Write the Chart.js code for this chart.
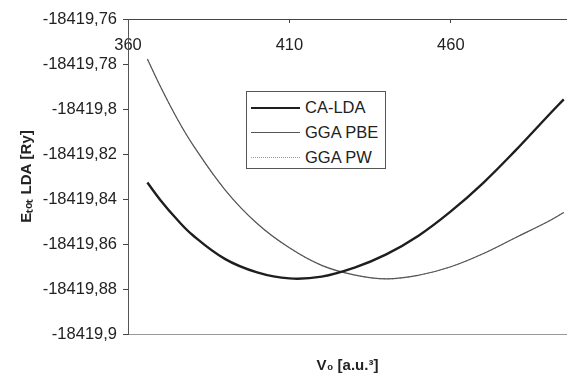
<!DOCTYPE html>
<html>
<head>
<meta charset="utf-8">
<script src="https://cdn.jsdelivr.net/npm/chart.js@4.4.1/dist/chart.umd.min.js"></script>
<style>
  html, body { margin: 0; padding: 0; background: #fff; }
  #wrap { position: relative; width: 567px; height: 376px; }
  #legend {
    position: absolute; left: 246px; top: 91px; width: 140px; height: 78px;
    border: 1px solid #555; background: #fff; box-sizing: border-box;
    font: 16.5px "Liberation Sans", Arial, sans-serif; color: #222;
  }
  #legend .row { display: flex; align-items: center; height: 25px; padding-left: 4px; }
  #legend .row:first-child { margin-top: 3px; }
  #legend .smp { width: 49px; margin-right: 5px; }
</style>
</head>
<body>
<div id="wrap">
  <canvas id="myChart" width="567" height="376"></canvas>
  <div id="legend"></div>
</div>
<script>
// volumes (a.u.^3) and total energies (Ry)
const volumes = [366, 370, 375, 380, 390, 400, 410, 420, 430, 440, 450, 460, 470, 480, 490, 495]
const caLda = [-18419.8327, -18419.8404, -18419.8488, -18419.8560, -18419.8666, -18419.8726, -18419.8753, -18419.8745,
               -18419.8706, -18419.8646, -18419.8563, -18419.8455, -18419.8329, -18419.8185, -18419.8032, -18419.7957]
const ggaPbe = [-18419.7778, -18419.7899, -18419.8037, -18419.8157, -18419.8358, -18419.8509, -18419.8617, -18419.8695,
                -18419.8737, -18419.8755, -18419.8739, -18419.8701, -18419.8643, -18419.8572, -18419.8501, -18419.8460]
const ggaPw = [-18419.7778, -18419.7899, -18419.8037, -18419.8157, -18419.8358, -18419.8509, -18419.8617, -18419.8695,
               -18419.8737, -18419.8755, -18419.8739, -18419.8701, -18419.8643, -18419.8572, -18419.8501, -18419.8460]
const xTicks = [360, 410, 460]
const yTicks = [-18419.9, -18419.88, -18419.86, -18419.84, -18419.82, -18419.8, -18419.78, -18419.76]

const pts = arr => arr.map((e, i) => ({x: volumes[i], y: e}))
const font = '"Liberation Sans", Arial, sans-serif'
const fmtY = v => {
  let s = v.toFixed(2)
  s = s.replace(/0+$/, '').replace(/\.$/, '')
  return s.replace('.', ',')
}

const ctx = document.getElementById("myChart").getContext('2d')
const chart = new Chart(ctx, {
  type: 'line',
  data: {
    datasets: [{
      label: 'CA-LDA',
      data: pts(caLda),
      borderColor: '#1e1e1e',
      borderWidth: 2.4
    }, {
      label: 'GGA PBE',
      data: pts(ggaPbe),
      borderColor: '#555',
      borderWidth: 1.2
    }, {
      label: 'GGA PW',
      data: pts(ggaPw),
      borderColor: '#999',
      borderWidth: 1,
      borderDash: [2, 2]
    }]
  },
  options: {
    responsive: false,
    animation: false,
    layout: { padding: { top: 19, left: 0, right: 0, bottom: 0 } },
    elements: { point: { radius: 0 }, line: { tension: 0.4 } },
    plugins: { legend: { display: false }, tooltip: { enabled: false } },
    scales: {
      x: {
        type: 'linear',
        position: { y: -18419.76 },
        min: 360,
        max: 496,
        afterBuildTicks: s => { s.ticks = xTicks.map(v => ({value: v})) },
        grid: { display: true, drawOnChartArea: false, drawTicks: true, tickLength: 3, tickColor: '#444' },
        border: { display: true, color: '#444', width: 1 },
        ticks: { padding: 14, color: '#222', font: { family: font, size: 16.5 }, maxRotation: 0 }
      },
      x2: {
        type: 'linear',
        position: 'bottom',
        min: 360,
        max: 496,
        afterFit: s => { s.height = 42 },
        grid: { display: false, drawTicks: false },
        border: { display: true, color: '#999', width: 1, dash: [5, 2] },
        ticks: { display: false },
        title: {
          display: true,
          text: 'V\u2080 [a.u.\u00b3]',
          color: '#222',
          font: { family: font, size: 15, weight: 'bold' },
          padding: { top: 4, bottom: 1 }
        }
      },
      y: {
        min: -18419.9,
        max: -18419.76,
        afterBuildTicks: s => { s.ticks = yTicks.map(v => ({value: v})) },
        afterFit: s => { s.width = 128 },
        grid: { drawOnChartArea: false, tickLength: 5, tickColor: '#444' },
        border: { display: true, color: '#555', width: 1 },
        ticks: { padding: 6, color: '#222', font: { family: font, size: 16.5 }, callback: v => fmtY(v) },
        title: {
          display: true,
          text: 'E\u209c\u2092\u209c LDA [Ry]',
          color: '#222',
          font: { family: font, size: 15, weight: 'bold' },
          padding: { top: 18, bottom: 4 }
        }
      }
    }
  }
})

// legend box drawn in html from the datasets
const legend = document.getElementById('legend')
chart.data.datasets.forEach(ds => {
  const row = document.createElement('div')
  row.className = 'row'
  const smp = document.createElement('span')
  smp.className = 'smp'
  smp.style.borderTop = Math.max(1, Math.round(ds.borderWidth)) + 'px ' + (ds.borderDash ? 'dotted ' : 'solid ') + ds.borderColor
  const txt = document.createElement('span')
  txt.textContent = ds.label
  row.appendChild(smp)
  row.appendChild(txt)
  legend.appendChild(row)
})
</script>
</body>
</html>
